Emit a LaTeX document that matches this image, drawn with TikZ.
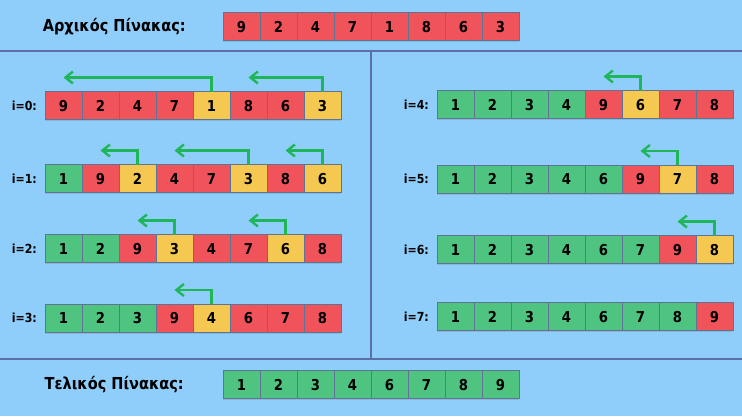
\documentclass[tikz,border=0pt]{standalone}
\usepackage{fontspec}
\setmainfont{DejaVu Sans}[FakeStretch=0.88]
\usetikzlibrary{positioning,arrows.meta,shadows}
\definecolor{bgblue}{HTML}{8FCEFB}
\definecolor{frameline}{HTML}{5D70A6}
\definecolor{cellline}{HTML}{5F7396}
\definecolor{cellred}{HTML}{F0535A}
\definecolor{cellyellow}{HTML}{F5C951}
\definecolor{cellgreen}{HTML}{4EC480}
\definecolor{movegreen}{HTML}{1FB65A}
\begin{document}
\begin{tikzpicture}[x=1pt,y=-1pt,
  cell/.style={draw=cellline,line width=1pt,minimum width=37pt,minimum height=28pt,inner sep=0pt,outer sep=0pt,
    text height=11pt,text depth=0pt,
    font=\fontsize{15}{17}\selectfont\bfseries,drop shadow={shadow xshift=0pt,shadow yshift=-1.5pt,opacity=.3}},
  rcell/.style={cell,fill=cellred},
  ycell/.style={cell,fill=cellyellow},
  gcell/.style={cell,fill=cellgreen},
  lbl/.style={font=\fontsize{12.5}{14}\selectfont\bfseries,inner sep=0pt},
  title/.style={font=\fontsize{16.5}{19}\selectfont\bfseries,inner sep=0pt},
  move/.style={-{Straight Barb[length=7.5pt,width=12pt]},line width=2.4pt,draw=movegreen}]
\useasboundingbox[fill=bgblue] (0,0) rectangle (742,416);
\draw[frameline,line width=1.2pt] (0,51)--(742,51);
\draw[frameline,line width=1.2pt] (0,359)--(742,359);
\draw[frameline,line width=1.2pt] (371,51)--(371,359);

%arxikos
\node[rcell] (a1) at (241.5,26.7) {9};
\node[rcell,right=0pt of a1] (a2) {2};
\node[rcell,right=0pt of a2] (a3) {4};
\node[rcell,right=0pt of a3] (a4) {7};
\node[rcell,right=0pt of a4] (a5) {1};
\node[rcell,right=0pt of a5] (a6) {8};
\node[rcell,right=0pt of a6] (a7) {6};
\node[rcell,right=0pt of a7] (a8) {3};
\node[title,left=37pt of a1] (atitle) {Αρχικός Πίνακας:};

%i=0
\node[rcell] (r0c1) at (63.5,105.5) {9};
\node[rcell,right=0pt of r0c1] (r0c2) {2};
\node[rcell,right=0pt of r0c2] (r0c3) {4};
\node[rcell,right=0pt of r0c3] (r0c4) {7};
\node[ycell,right=0pt of r0c4] (r0c5) {1};
\node[rcell,right=0pt of r0c5] (r0c6) {8};
\node[rcell,right=0pt of r0c6] (r0c7) {6};
\node[ycell,right=0pt of r0c7] (r0c8) {3};
\node[lbl,left=8pt of r0c1] (l0) {i=0:};
\draw[move] (r0c5.north) |- ([yshift=14pt]r0c1.north);
\draw[move] (r0c8.north) |- ([yshift=14pt]r0c6.north);

%i=1
\node[gcell] (r1c1) at (63.5,178.5) {1};
\node[rcell,right=0pt of r1c1] (r1c2) {9};
\node[ycell,right=0pt of r1c2] (r1c3) {2};
\node[rcell,right=0pt of r1c3] (r1c4) {4};
\node[rcell,right=0pt of r1c4] (r1c5) {7};
\node[ycell,right=0pt of r1c5] (r1c6) {3};
\node[rcell,right=0pt of r1c6] (r1c7) {8};
\node[ycell,right=0pt of r1c7] (r1c8) {6};
\node[lbl,left=8pt of r1c1] (l1) {i=1:};
\draw[move] (r1c3.north) |- ([yshift=14pt]r1c2.north);
\draw[move] (r1c6.north) |- ([yshift=14pt]r1c4.north);
\draw[move] (r1c8.north) |- ([yshift=14pt]r1c7.north);

%i=2
\node[gcell] (r2c1) at (63.5,248.5) {1};
\node[gcell,right=0pt of r2c1] (r2c2) {2};
\node[rcell,right=0pt of r2c2] (r2c3) {9};
\node[ycell,right=0pt of r2c3] (r2c4) {3};
\node[rcell,right=0pt of r2c4] (r2c5) {4};
\node[rcell,right=0pt of r2c5] (r2c6) {7};
\node[ycell,right=0pt of r2c6] (r2c7) {6};
\node[rcell,right=0pt of r2c7] (r2c8) {8};
\node[lbl,left=8pt of r2c1] (l2) {i=2:};
\draw[move] (r2c4.north) |- ([yshift=14pt]r2c3.north);
\draw[move] (r2c7.north) |- ([yshift=14pt]r2c6.north);

%i=3
\node[gcell] (r3c1) at (63.5,318) {1};
\node[gcell,right=0pt of r3c1] (r3c2) {2};
\node[gcell,right=0pt of r3c2] (r3c3) {3};
\node[rcell,right=0pt of r3c3] (r3c4) {9};
\node[ycell,right=0pt of r3c4] (r3c5) {4};
\node[rcell,right=0pt of r3c5] (r3c6) {6};
\node[rcell,right=0pt of r3c6] (r3c7) {7};
\node[rcell,right=0pt of r3c7] (r3c8) {8};
\node[lbl,left=8pt of r3c1] (l3) {i=3:};
\draw[move] (r3c5.north) |- ([yshift=14pt]r3c4.north);

%i=4
\node[gcell] (r4c1) at (455.5,104.5) {1};
\node[gcell,right=0pt of r4c1] (r4c2) {2};
\node[gcell,right=0pt of r4c2] (r4c3) {3};
\node[gcell,right=0pt of r4c3] (r4c4) {4};
\node[rcell,right=0pt of r4c4] (r4c5) {9};
\node[ycell,right=0pt of r4c5] (r4c6) {6};
\node[rcell,right=0pt of r4c6] (r4c7) {7};
\node[rcell,right=0pt of r4c7] (r4c8) {8};
\node[lbl,left=8pt of r4c1] (l4) {i=4:};
\draw[move] (r4c6.north) |- ([yshift=14pt]r4c5.north);

%i=5
\node[gcell] (r5c1) at (455.5,179) {1};
\node[gcell,right=0pt of r5c1] (r5c2) {2};
\node[gcell,right=0pt of r5c2] (r5c3) {3};
\node[gcell,right=0pt of r5c3] (r5c4) {4};
\node[gcell,right=0pt of r5c4] (r5c5) {6};
\node[rcell,right=0pt of r5c5] (r5c6) {9};
\node[ycell,right=0pt of r5c6] (r5c7) {7};
\node[rcell,right=0pt of r5c7] (r5c8) {8};
\node[lbl,left=8pt of r5c1] (l5) {i=5:};
\draw[move] (r5c7.north) |- ([yshift=14pt]r5c6.north);

%i=6
\node[gcell] (r6c1) at (455.5,249.5) {1};
\node[gcell,right=0pt of r6c1] (r6c2) {2};
\node[gcell,right=0pt of r6c2] (r6c3) {3};
\node[gcell,right=0pt of r6c3] (r6c4) {4};
\node[gcell,right=0pt of r6c4] (r6c5) {6};
\node[gcell,right=0pt of r6c5] (r6c6) {7};
\node[rcell,right=0pt of r6c6] (r6c7) {9};
\node[ycell,right=0pt of r6c7] (r6c8) {8};
\node[lbl,left=8pt of r6c1] (l6) {i=6:};
\draw[move] (r6c8.north) |- ([yshift=14pt]r6c7.north);

%i=7
\node[gcell] (r7c1) at (455.5,316.7) {1};
\node[gcell,right=0pt of r7c1] (r7c2) {2};
\node[gcell,right=0pt of r7c2] (r7c3) {3};
\node[gcell,right=0pt of r7c3] (r7c4) {4};
\node[gcell,right=0pt of r7c4] (r7c5) {6};
\node[gcell,right=0pt of r7c5] (r7c6) {7};
\node[gcell,right=0pt of r7c6] (r7c7) {8};
\node[rcell,right=0pt of r7c7] (r7c8) {9};
\node[lbl,left=8pt of r7c1] (l7) {i=7:};

%telikos
\node[gcell] (t1) at (241.5,384.5) {1};
\node[gcell,right=0pt of t1] (t2) {2};
\node[gcell,right=0pt of t2] (t3) {3};
\node[gcell,right=0pt of t3] (t4) {4};
\node[gcell,right=0pt of t4] (t5) {6};
\node[gcell,right=0pt of t5] (t6) {7};
\node[gcell,right=0pt of t6] (t7) {8};
\node[gcell,right=0pt of t7] (t8) {9};
\node[title,left=39pt of t1] (ttitle) {Τελικός Πίνακας:};
\end{tikzpicture}
\end{document}
